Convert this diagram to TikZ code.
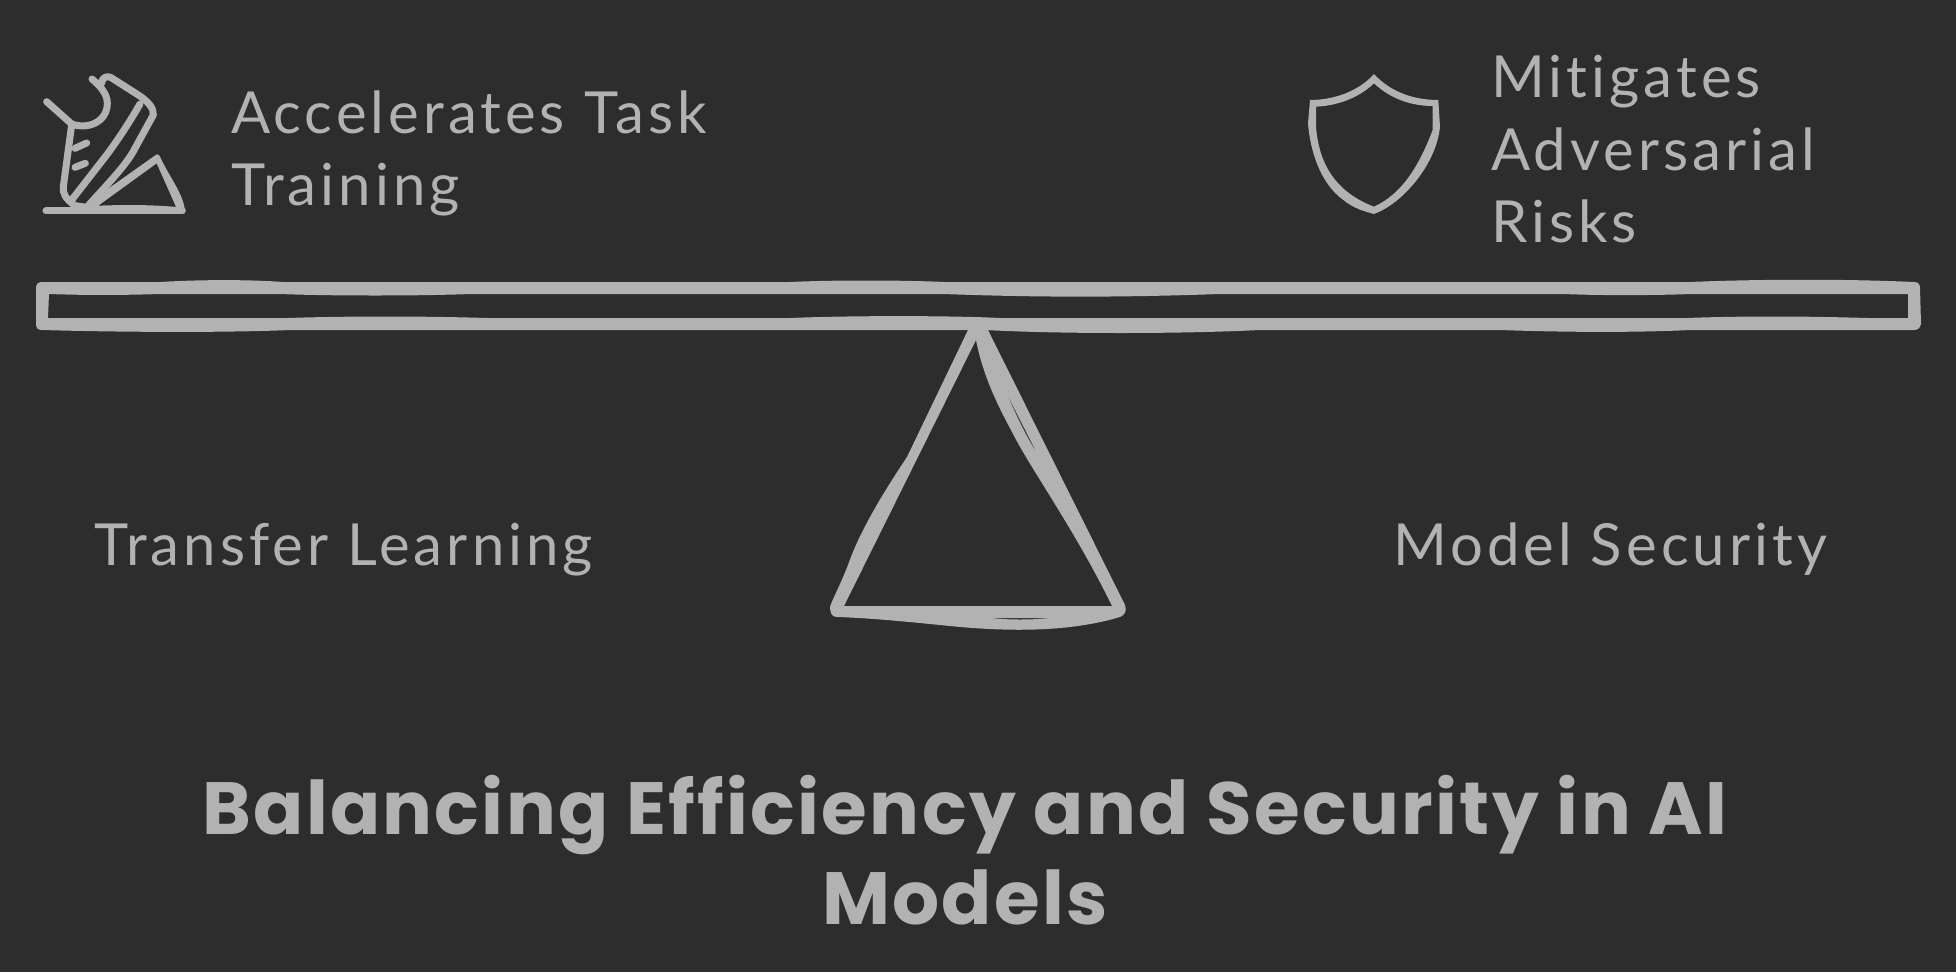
\documentclass[tikz,border=0pt]{standalone}
\usepackage{fontspec}
\setmainfont{Lato}[LetterSpace=7,Ligatures=NoCommon]
\newfontfamily\titlefont{Poppins}[UprightFont=*-Bold,LetterSpace=3.1,Ligatures=NoCommon]
\definecolor{bgc}{HTML}{2D2D2D}
\definecolor{ink}{HTML}{B2B2B2}
\tikzset{
  lab/.style={anchor=base west,inner sep=0pt,text=ink,font=\fontsize{58}{60}\selectfont},
  ttl/.style={anchor=base,inner sep=0pt,text=ink,font=\titlefont\fontsize{74}{80}\selectfont},
  sk/.style={draw=ink,line width=7pt,line cap=round,line join=round},
  blob/.style={fill=ink,even odd rule},
  zoomed/.style={x=0.3333pt,y=-0.3333pt}
}
\begin{document}
\begin{tikzpicture}[x=1pt,y=-1pt]
\useasboundingbox[fill=bgc] (0,0) rectangle (1956,972);
% beam
\fill[blob] (42,282) -- (160,282) .. controls (200,279.5) and (250,279.5) .. (283,282)
  -- (790,282) .. controls (830,280) and (900,280) .. (945,282)
  -- (1690,282) .. controls (1760,279) and (1850,279) .. (1914,282) .. controls (1918,282) and (1920,284) .. (1920,288)
  -- (1921,324) .. controls (1920,328) and (1918,330) .. (1914,330)
  -- (1690,330) .. controls (1640,332.5) and (1570,332.5) .. (1500,330)
  -- (1260,330) .. controls (1180,334) and (1060,334) .. (985,330)
  -- (290,330) .. controls (220,333) and (110,332) .. (42,330) .. controls (38,330) and (36,328) .. (36,324) -- (36,288) .. controls (36,284) and (38,282) .. (42,282) -- cycle
  (49,294) .. controls (90,295.5) and (130,295) .. (160,294) -- (280,294) .. controls (330,296) and (420,296) .. (470,294)
  -- (943,294) .. controls (1040,297.5) and (1120,297.5) .. (1220,294)
  -- (1563,294) .. controls (1600,295.5) and (1650,295.5) .. (1692,294)
  -- (1908,294) -- (1908,318) -- (1867,318) .. controls (1800,316) and (1740,316) .. (1687,318)
  -- (1000,318) .. controls (950,315.5) and (850,315.5) .. (790,318)
  -- (487,318) .. controls (420,316) and (350,316) .. (287,318) -- (48,318) -- cycle;
% fulcrum
\fill[blob] (968,330) -- (907,457) .. controls (885,490) and (860,530) .. (848,565) .. controls (838,590) and (832,600) .. (830,607)
  .. controls (830,613) and (832,617) .. (837,617) .. controls (870,618) and (910,622) .. (950,626) .. controls (1010,632) and (1070,632) .. (1120,617)
  .. controls (1125,615) and (1127,611) .. (1125,605) -- (988,330) -- cycle
  (976,340) .. controls (982,370) and (992,395) .. (1012,432) .. controls (1030,468) and (1075,530) .. (1112,606)
  -- (844,606) -- cycle
  (1005,390) .. controls (1015,412) and (1025,435) .. (1037,453) .. controls (1025,430) and (1015,410) .. (1005,390) -- cycle
  (988,618) .. controls (1010,620) and (1030,620) .. (1053,618) -- cycle;
% shoe
\begin{scope}[shift={(20,50)},zoomed]
 \path[sk] (80,155) -- (155,222) .. controls (205,240) and (262,215) .. (262,160) .. controls (262,130) and (240,108) .. (216,87);
 \path[sk] (245,100) .. controls (245,85) and (258,76) .. (272,82) -- (355,135) .. controls (385,155) and (402,175) .. (400,195) -- (345,295) .. controls (320,345) and (260,405) .. (200,472) -- (165,467) .. controls (135,445) and (128,430) .. (130,410) -- (155,225);
 \path[sk] (360,162) .. controls (330,215) and (290,275) .. (260,315) -- (155,450);
 \path[sk] (165,295) -- (200,279);
 \path[sk] (165,352) -- (196,340);
 \path[sk] (78,483) -- (487,483);
 \fill[ink] (262,418) -- (410,313) .. controls (416,313) and (418,316) .. (420,320) .. controls (450,385) and (490,430) .. (495,483) -- (470,475) -- (410,340) -- (235,467) .. controls (320,464) and (400,464) .. (480,472) -- (480,490) -- (200,490) -- (200,472) -- cycle;
\end{scope}
% shield
\begin{scope}[shift={(1290,50)},zoomed]
 \fill[blob] (252,72) .. controls (205,125) and (130,150) .. (60,150) -- (54,220) .. controls (60,300) and (90,400) .. (160,450) .. controls (190,475) and (225,485) .. (252,492) .. controls (340,460) and (440,340) .. (450,230) -- (445,150) .. controls (370,150) and (300,125) .. (252,72) -- cycle
 (252,100) .. controls (200,150) and (130,168) .. (78,170) -- (78,230) .. controls (85,320) and (120,420) .. (252,470) .. controls (340,430) and (390,340) .. (428,240) -- (428,168) .. controls (370,168) and (305,150) .. (252,100) -- cycle;
\end{scope}
% labels
\node[lab] (a1) at (231,133) {Accelerates Task};
\node[lab] (a2) at (231,205) {Training};
\node[lab] (m1) at (1491,97) {Mitigates};
\node[lab] (m2) at (1491,170) {Adversarial};
\node[lab] (m3) at (1491,242) {Risks};
\node[lab] (tl) at (94,565) {Transfer Learning};
\node[lab] (ms) at (1393,565) {Model Security};
\node[ttl] (t1) at (965,834) {Balancing Efficiency and Security in AI};
\node[ttl] (t2) at (965,924) {Models};
\end{tikzpicture}
\end{document}
